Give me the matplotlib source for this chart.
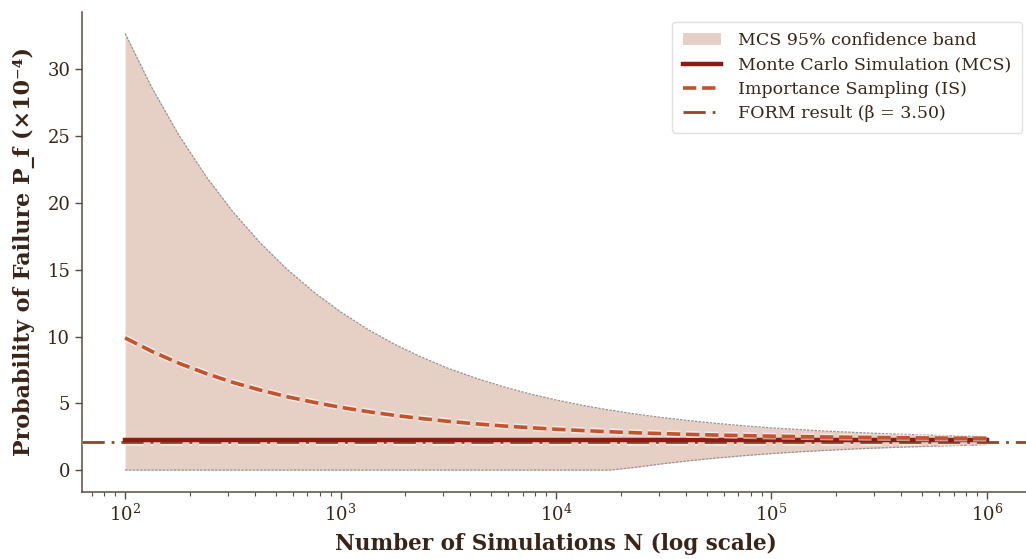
import matplotlib
matplotlib.use("Agg")
import matplotlib.pyplot as plt
import matplotlib.patheffects as pe
from matplotlib.lines import Line2D
from matplotlib.patches import Patch

# ---- data (P_f in units of 1e-4) ----
n_sim = [100, 133.4, 177.8, 237.1, 316.2, 421.7, 562.3, 749.9,
         1000, 1334, 1778, 2371, 3162, 4217, 5623, 7499,
         10000, 13335, 17783, 23714, 31623, 42170, 56234, 74989,
         100000, 133352, 177828, 237137, 316228, 421697, 562341, 749894,
         1000000]
band_upper = [32.7, 28.61, 25.07, 22.01, 19.35, 17.05, 15.06, 13.34,
              11.85, 10.55, 9.43, 8.46, 7.62, 6.90, 6.27, 5.72,
              5.25, 4.84, 4.49, 4.18, 3.92, 3.69, 3.49, 3.31,
              3.16, 3.04, 2.92, 2.83, 2.74, 2.67, 2.61, 2.55,
              2.51]
band_lower = [0, 0, 0, 0, 0, 0, 0, 0,
              0, 0, 0, 0, 0, 0, 0, 0,
              0, 0, 0, 0.22, 0.485, 0.715, 0.914, 1.086,
              1.236, 1.365, 1.477, 1.574, 1.658, 1.730, 1.793, 1.848,
              1.895]
mcs = [2.22] * 33
is_est = [9.90, 8.88, 8.00, 7.24, 6.57, 6.00, 5.50, 5.08,
          4.70, 4.38, 4.10, 3.86, 3.65, 3.47, 3.31, 3.18,
          3.06, 2.96, 2.87, 2.79, 2.73, 2.67, 2.62, 2.58,
          2.54, 2.51, 2.48, 2.46, 2.44, 2.42, 2.40, 2.39,
          2.38]
form_value = 2.08
beta = 3.50

labels = ["MCS 95% confidence band", "Monte Carlo Simulation (MCS)",
          "Importance Sampling (IS)", f"FORM result (\u03b2 = {beta:.2f})"]

# ---- style ----
plt.rcParams["font.family"] = ["DejaVu Serif"]
plt.rcParams["mathtext.fontset"] = "dejavuserif"

c_band = "#e6d0c6"
c_edge = "#a09090"
c_mcs = "#8b1c13"
c_is = "#c4522c"
c_form = "#8b4a2b"
c_text = "#3a2418"
c_tick = "#5a4a42"
form_ls = (0, (8, 2.5, 1, 2.5))

fig = plt.figure(figsize=(10.26, 5.59), dpi=100)
ax = fig.add_axes([82 / 1026, 67 / 559, 948 / 1026, 480 / 559])

halo = [pe.withStroke(linewidth=4.8, foreground="white", alpha=0.55)]

ax.fill_between(n_sim, band_lower, band_upper, color=c_band, lw=0, zorder=1)
ax.plot(n_sim, band_upper, color=c_edge, lw=0.9, ls=(0, (2, 1)), zorder=2)
ax.plot(n_sim, band_lower, color=c_edge, lw=0.9, ls=(0, (2, 1)), zorder=2)
ax.axhline(form_value, color=c_form, lw=2.0, ls=form_ls,
           zorder=3, path_effects=halo)
ax.plot(n_sim, mcs, color=c_mcs, lw=3.2, zorder=4)
ax.plot(n_sim, is_est, color=c_is, lw=2.6, ls="--", zorder=5, path_effects=halo)

ax.set_xscale("log")
ax.set_xlim(10 ** 1.8, 10 ** 6.2)
ax.set_ylim(-1.64, 34.3)
ax.set_yticks([0, 5, 10, 15, 20, 25, 30])

for s in ["top", "right"]:
    ax.spines[s].set_visible(False)
for s in ["left", "bottom"]:
    ax.spines[s].set_color(c_tick)
    ax.spines[s].set_linewidth(1.1)

ax.tick_params(axis="both", which="major", labelsize=13, colors=c_tick,
               labelcolor=c_text, length=5, width=1)
ax.tick_params(axis="x", which="minor", colors=c_tick, length=3, width=0.8)

ax.set_xlabel("Number of Simulations N (log scale)", fontsize=15.5,
              fontweight="bold", color=c_text, labelpad=6)
ax.set_ylabel("Probability of Failure P_f (\u00d710\u207b\u2074)", fontsize=16,
              fontweight="bold", color=c_text, labelpad=9)

handles = [
    Patch(facecolor=c_band, edgecolor="none"),
    Line2D([], [], color=c_mcs, lw=3.2),
    Line2D([], [], color=c_is, lw=2.6, ls="--"),
    Line2D([], [], color=c_form, lw=2.0, ls=form_ls),
]
leg = ax.legend(handles, labels, loc="upper right",
                bbox_to_anchor=(1022 / 1026, 1 - 22 / 559),
                bbox_transform=fig.transFigure, borderaxespad=0,
                fontsize=12.5, frameon=True, fancybox=True,
                labelspacing=0.42, handlelength=2.2, handletextpad=1.0,
                borderpad=0.6,
                edgecolor="#dddddd", framealpha=0.9, labelcolor=c_text)

fig.savefig("out.png", dpi=100)
